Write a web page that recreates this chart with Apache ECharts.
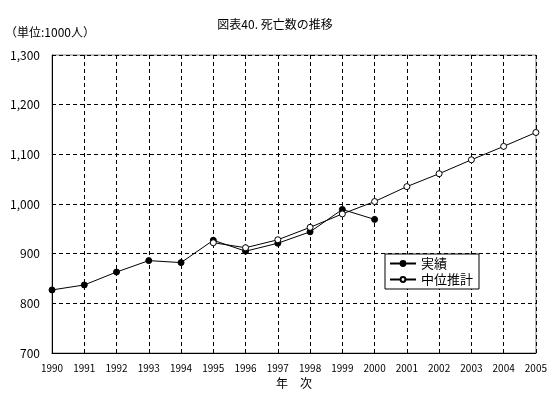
<!DOCTYPE html>
<html><head><meta charset="utf-8">
<script src="https://cdn.jsdelivr.net/npm/echarts@6/dist/echarts.min.js"></script>
<style>html,body{margin:0;padding:0;background:#fff}#c{width:550px;height:395px}</style>
</head><body><div id="c"></div>
<script>
const years = ['1990','1991','1992','1993','1994','1995','1996','1997','1998','1999','2000','2001','2002','2003','2004','2005'];
const actual = [827, 837, 863, 886, 882, 927, 905, 921, 944, 989, 969, null, null, null, null, null];
const projection = [null, null, null, null, null, 922, 912, 928, 953, 980, 1005, 1035, 1061, 1089, 1116, 1144];
const seriesNames = ['実績', '中位推計'];
const titleText = '図表40. 死亡数の推移';
const unitText = '（単位:1000人）';
const xAxisName = '年　次';

const FONT = '"Noto Sans CJK JP", "Noto Sans", sans-serif';
const chart = echarts.init(document.getElementById('c'));
chart.setOption({
  animation: false,
  backgroundColor: '#fff',
  textStyle: { fontFamily: FONT, color: '#000' },
  title: [
    { text: titleText, left: 'center', top: 13, textStyle: { fontSize: 12, fontWeight: 'normal', color: '#000', fontFamily: FONT } },
    { text: unitText, left: 0, top: 21, textStyle: { fontSize: 12, fontWeight: 'normal', color: '#000', fontFamily: FONT } }
  ],
  legend: {
    orient: 'vertical', left: 385, top: 254, itemGap: 3,
    padding: [3, 6, 3, 4],
    borderColor: '#000', borderWidth: 1, backgroundColor: '#fff',
    itemWidth: 26, itemHeight: 6,
    textStyle: { fontSize: 13, color: '#000', fontFamily: FONT },
    data: seriesNames
  },
  grid: { left: 52, right: 13, top: 55, bottom: 42, show: true, borderColor: '#888', borderWidth: 1 },
  xAxis: {
    type: 'category', data: years, boundaryGap: false,
    name: xAxisName, nameLocation: 'middle', nameGap: 23,
    nameTextStyle: { fontSize: 12, color: '#000', fontFamily: FONT },
    axisLine: { lineStyle: { color: '#000', width: 1 } },
    axisTick: { show: false },
    axisLabel: { fontSize: 10, color: '#000', margin: 10, interval: 0, fontFamily: FONT },
    splitLine: { show: true, lineStyle: { color: '#000', type: [4, 3], width: 1 } }
  },
  yAxis: {
    type: 'value', min: 700, max: 1300, interval: 100,
    axisLine: { show: true, lineStyle: { color: '#000', width: 1 } },
    axisTick: { show: false },
    axisLabel: { fontSize: 12, color: '#000', margin: 12, fontFamily: FONT,
      formatter: v => v >= 1000 ? Math.floor(v/1000) + ',' + String(v%1000).padStart(3,'0') : String(v) },
    splitLine: { show: true, lineStyle: { color: '#000', type: [4, 3], width: 1 } }
  },
  series: [
    { name: seriesNames[0], type: 'line', data: actual, symbol: 'circle', symbolSize: 6,
      lineStyle: { color: '#000', width: 1 }, itemStyle: { color: '#000', borderColor: '#000', borderWidth: 1 }, z: 3 },
    { name: seriesNames[1], type: 'line', data: projection, symbol: 'circle', symbolSize: 6,
      lineStyle: { color: '#000', width: 1 }, itemStyle: { color: '#fff', borderColor: '#000', borderWidth: 1 }, z: 4 }
  ]
});
</script></body></html>
